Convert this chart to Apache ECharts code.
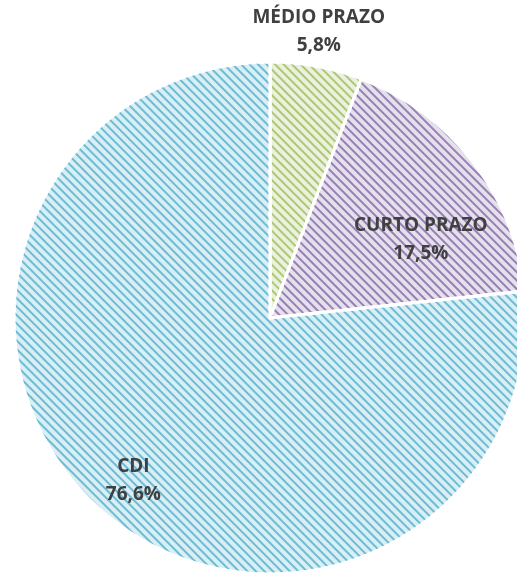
<!DOCTYPE html>
<html>
<head>
<meta charset="utf-8">
<script src="https://cdn.jsdelivr.net/npm/echarts@6/dist/echarts.min.js"></script>
<style>
  html, body { margin: 0; padding: 0; background: #fff; }
  #main { width: 517px; height: 575px; }
</style>
</head>
<body>
<div id="main"></div>
<script>
// dados
var categorias = ['MÉDIO PRAZO', 'CURTO PRAZO', 'CDI'];
var valores = [5.8, 17.5, 76.6];
var coresFundo = ['#ebf1de', '#e6e0ed', '#d9eef5'];
var coresLinha = ['#acc872', '#9580b4', '#6cbcd3'];
// deslocamento dos rótulos a partir da posição "inside"
var deslocamentos = [[25, -158], [47, 1], [-49, 65]];

var myChart = echarts.init(document.getElementById('main'));

var dados = categorias.map(function (nome, i) {
  return {
    name: nome,
    value: valores[i],
    itemStyle: {
      color: coresFundo[i],
      decal: {
        symbol: 'rect',
        color: coresLinha[i],
        dashArrayX: [1, 0],
        dashArrayY: [1.6, 4],
        rotation: Math.PI / 4
      }
    },
    label: { offset: deslocamentos[i] }
  };
});

var option = {
  animation: false,
  series: [{
    type: 'pie',
    center: [270, 318],
    radius: [0, 256],
    startAngle: 90,
    clockwise: true,
    itemStyle: {
      borderColor: '#ffffff',
      borderWidth: 3
    },
    label: {
      show: true,
      position: 'inside',
      color: '#404040',
      fontFamily: 'Open Sans',
      fontWeight: 'bold',
      fontSize: 19,
      lineHeight: 28,
      formatter: function (p) {
        return p.name + '\n' + p.value.toFixed(1).replace('.', ',') + '%';
      }
    },
    labelLine: { show: false },
    data: dados
  }]
};

myChart.setOption(option);
</script>
</body>
</html>
